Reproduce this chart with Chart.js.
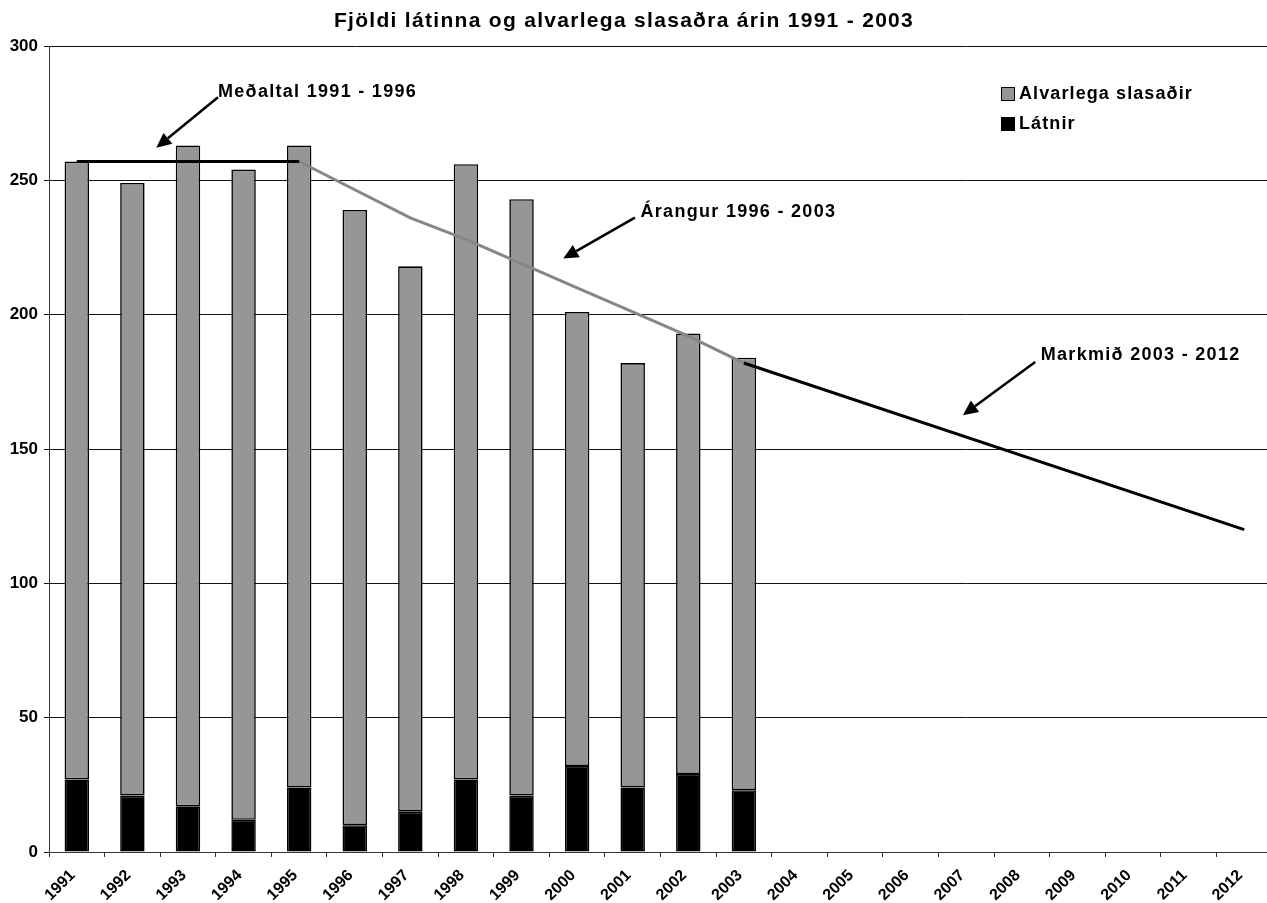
<!DOCTYPE html>
<html>
<head>
<meta charset="utf-8">
<script src="https://cdn.jsdelivr.net/npm/chart.js@4"></script>
<style>
  html, body { margin: 0; padding: 0; background: #fff; overflow: hidden; }
  #wrap { width: 1280px; height: 903px; }
</style>
</head>
<body>
<div id="wrap"><canvas id="chart" width="1280" height="903"></canvas></div>
<script>
const years = ['1991','1992','1993','1994','1995','1996','1997','1998','1999','2000','2001',
  '2002','2003','2004','2005','2006','2007','2008','2009','2010','2011','2012'];
const latnir = [27, 21, 17, 12, 24, 10, 15, 27, 21, 32, 24, 29, 23];
const alvarlegaSlasadir = [230, 228, 246, 242, 239, 229, 203, 229, 222, 169, 158, 164, 161];
const medaltal = [257, 257, 257, 257, 257];
const arangur = [null, null, null, null, 257, 246.5, 236, 228, 219, 210, 201, 192, 182];
const markmid = [null, null, null, null, null, null, null, null, null, null, null, null, 182,
  null, null, null, null, null, null, null, null, 120];
const yTicks = [0, 50, 100, 150, 200, 250, 300];

const titleText = 'Fjöldi látinna og alvarlega slasaðra árin 1991 - 2003';
// annotation anchors in data units: [category index, value]
const notes = [
  { text: 'Meðaltal 1991 - 1996', at: [2.54, 282.7], from: [2.54, 280.9], to: [1.43, 262.1] },
  { text: 'Árangur 1996 - 2003', at: [10.14, 238.2], from: [10.04, 236.1], to: [8.75, 220.9] },
  { text: 'Markmið 2003 - 2012', at: [17.34, 184.9], from: [17.24, 182.4], to: [15.94, 162.6] }
];

const pad = (arr) => years.map((_, i) => (i < arr.length ? arr[i] : null));
const FONT = '"Liberation Sans", Arial, sans-serif';

function arrow(ctx, x1, y1, x2, y2) {
  const ang = Math.atan2(y2 - y1, x2 - x1);
  const len = 15, hw = 7;
  const bx = x2 - Math.cos(ang) * len, by = y2 - Math.sin(ang) * len;
  ctx.beginPath();
  ctx.moveTo(x1, y1);
  ctx.lineTo(bx, by);
  ctx.lineWidth = 2.5;
  ctx.strokeStyle = '#000';
  ctx.stroke();
  ctx.beginPath();
  ctx.moveTo(x2, y2);
  ctx.lineTo(bx + Math.sin(ang) * hw, by - Math.cos(ang) * hw);
  ctx.lineTo(bx - Math.sin(ang) * hw, by + Math.cos(ang) * hw);
  ctx.closePath();
  ctx.fillStyle = '#000';
  ctx.fill();
}

const decor = {
  id: 'decor',
  afterDraw(chart) {
    const ctx = chart.ctx;
    const xs = chart.scales.x, ys = chart.scales.y;
    ctx.save();
    ctx.fillStyle = '#000';
    ctx.textBaseline = 'middle';

    ctx.font = 'bold 21px ' + FONT;
    ctx.letterSpacing = '1.3px';
    ctx.textAlign = 'center';
    ctx.fillText(titleText, 624, 21);

    // legend
    ctx.font = 'bold 18px ' + FONT;
    ctx.letterSpacing = '1.1px';
    ctx.textAlign = 'left';
    const items = [['Alvarlega slasaðir', '#969696', 94], ['Látnir', '#000', 124]];
    items.forEach(([label, col, y]) => {
      ctx.fillStyle = col;
      ctx.fillRect(1001.5, y - 6.5, 13, 13);
      ctx.strokeStyle = '#000';
      ctx.lineWidth = 1;
      ctx.strokeRect(1001.5, y - 6.5, 13, 13);
      ctx.fillStyle = '#000';
      ctx.fillText(label, 1019, y);
    });

    // annotations
    ctx.font = 'bold 18px ' + FONT;
    ctx.letterSpacing = '1.3px';
    notes.forEach(n => {
      const px = v => xs.getPixelForValue(v[0]);
      const py = v => ys.getPixelForValue(v[1]);
      ctx.fillStyle = '#000';
      ctx.fillText(n.text, px(n.at), py(n.at));
      arrow(ctx, px(n.from), py(n.from), px(n.to), py(n.to));
    });
    ctx.restore();
  }
};

const lineStyle = { type: 'line', pointRadius: 0, borderWidth: 3, spanGaps: true, fill: false, tension: 0 };
const barStyle = { type: 'bar', borderColor: '#000', borderWidth: 1.6, borderSkipped: false,
  barPercentage: 0.44, categoryPercentage: 1, order: 2 };

new Chart(document.getElementById('chart').getContext('2d'), {
  data: {
    labels: years,
    datasets: [
      { ...barStyle, label: 'Látnir', data: pad(latnir), backgroundColor: '#000' },
      { ...barStyle, label: 'Alvarlega slasaðir', data: pad(alvarlegaSlasadir), backgroundColor: '#969696' },
      { ...lineStyle, label: 'Meðaltal', data: pad(medaltal), borderColor: '#000', stack: 'm1', order: 1 },
      { ...lineStyle, label: 'Árangur', data: pad(arangur), borderColor: '#868686', stack: 'm2', order: 1 },
      { ...lineStyle, label: 'Markmið', data: pad(markmid), borderColor: '#000', stack: 'm3', order: 0 }
    ]
  },
  options: {
    responsive: false,
    animation: false,
    layout: { padding: { top: 46, right: 8, left: 0, bottom: 0 } },
    plugins: { legend: { display: false }, title: { display: false }, tooltip: { enabled: false } },
    scales: {
      x: {
        stacked: true,
        offset: true,
        grid: { display: true, offset: true, drawOnChartArea: false, drawTicks: true, tickLength: 5, color: '#333' },
        border: { color: '#333', width: 1 },
        ticks: {
          autoSkip: false, minRotation: 45, maxRotation: 45, padding: 9, labelOffset: -4,
          color: '#000', font: { family: FONT, size: 16, weight: 'bold' }
        },
        afterFit: s => { s.height = 51; }
      },
      y: {
        stacked: true,
        min: 0, max: 300,
        afterBuildTicks: s => { s.ticks = yTicks.map(v => ({ value: v })); },
        grid: { color: '#111', lineWidth: 1, tickLength: 5 },
        border: { color: '#333', width: 1 },
        ticks: { padding: 6, color: '#000', font: { family: FONT, size: 17, weight: 'bold' } },
        afterFit: s => { s.width = 49; }
      }
    }
  },
  plugins: [decor]
});
</script>
</body>
</html>
